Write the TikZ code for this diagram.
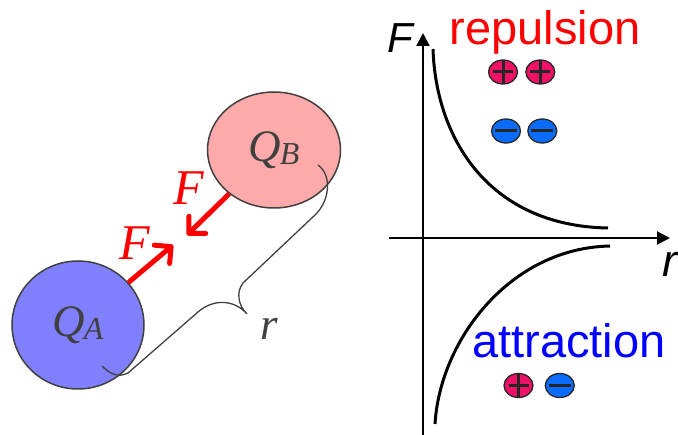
\documentclass[tikz,border=0pt]{standalone}
\usepackage{fontspec}
\setmainfont{Liberation Serif}
\setsansfont{Liberation Sans}
\usepackage{xcolor}
\usepackage{tikz}
\usetikzlibrary{arrows.meta,positioning,shapes.geometric}
\definecolor{chargeA}{HTML}{8080FF}
\definecolor{chargeB}{HTML}{FFAAAA}
\definecolor{plusred}{HTML}{EE1166}
\definecolor{minusblue}{HTML}{0A6CFF}
\definecolor{ink}{HTML}{404040}
\newcommand{\qname}[1]{\textit{Q}\kern-1pt\raisebox{-3pt}{\fontsize{32}{32}\selectfont\textit{#1}}}

\begin{document}
\begin{tikzpicture}[x=1pt, y=-1pt,
  charge/.style={draw=ink, line width=1.5pt, ellipse, inner sep=0pt, text=ink,
    font=\fontsize{45}{50}\selectfont},
  force/.style={red, line width=5pt, -{Straight Barb[length=12pt, width=24pt, round]}},
  flabel/.style={red, font=\fontsize{50}{55}\selectfont\itshape},
  bracket/.style={ink, line width=1.3pt},
  axis/.style={line width=2pt, -{Triangle[length=13pt, width=13pt]}},
  curve/.style={line width=3pt},
  ion/.style={draw=black!85, line width=1.3pt, ellipse, minimum width=29pt,
    minimum height=24pt, inner sep=0pt},
  plusion/.style={ion, fill=plusred, path picture={
    \draw[line width=3pt] ([xshift=-10pt]path picture bounding box.center) -- ([xshift=10pt]path picture bounding box.center)
      ([yshift=-12pt]path picture bounding box.center) -- ([yshift=12pt]path picture bounding box.center);}},
  minusion/.style={ion, fill=minusblue, path picture={
    \draw[line width=3pt] ([xshift=-11pt]path picture bounding box.center) -- ([xshift=11pt]path picture bounding box.center);}},
  word/.style={font=\sffamily\fontsize{47}{50}\selectfont, anchor=base, inner sep=0pt}
]
\useasboundingbox (0,0) rectangle (678,435);

\node[charge, fill=chargeB, minimum width=133pt, minimum height=116pt] (QB) at (274,150) {\qname{B}};
\node[charge, fill=chargeA, minimum width=132pt, minimum height=128pt] (QA) at (78,325) {\qname{A}};
\coordinate (tipB) at (187,235);
\coordinate (tipA) at (173,245);
\draw[force] (QB) -- (tipB);
\draw[force] (QA) -- (tipA);
\node[flabel] (FB) at (189,188) {F};
\node[flabel] (FA) at (135,243) {F};

\coordinate (rA) at (102,366);
\coordinate (rTip) at (247,314);
\coordinate (rB) at (318,165);
\draw[bracket] (rA) .. controls (110,374) and (118,378) .. (128,373) -- (198,312)
  .. controls (214,298) and (235,300) .. (rTip)
  .. controls (238,305) and (236,292) .. (243,283) -- (315,215)
  .. controls (329,202) and (333,176) .. (rB);
\node[text=ink, font=\fontsize{45}{50}\selectfont, anchor=base] (r) at (269,340) {\textit{r}};

\coordinate (ybot) at (423,435);
\coordinate (ytop) at (423,33);
\coordinate (xleft) at (389,238);
\coordinate (xright) at (670,238);
\draw[axis] (ybot) -- (ytop);
\draw[axis] (xleft) -- (xright);
\node[font=\sffamily\itshape\fontsize{42}{45}\selectfont] (Faxis) at (400,38) {F};
\node[font=\sffamily\itshape\fontsize{45}{50}\selectfont, anchor=base west, inner sep=0pt] (raxis) at (662,277) {r};

\draw[curve] (433,49) .. controls (436,140) and (490,226) .. (608,228);
\draw[curve] (435,424) .. controls (440,340) and (510,248) .. (610,246);

\node[word, red] (rep) at (545,45) {repulsion};
\node[word, blue] (att) at (569,358) {attraction};

\node[plusion] (p1) at (503,72) {};
\node[plusion, right=7pt of p1] (p2) {};
\node[minusion] (m1) at (506,131) {};
\node[minusion, right=6pt of m1] (m2) {};
\node[plusion] (p3) at (518.5,385.5) {};
\node[minusion, right=11pt of p3] (m3) {};
\end{tikzpicture}
\end{document}
